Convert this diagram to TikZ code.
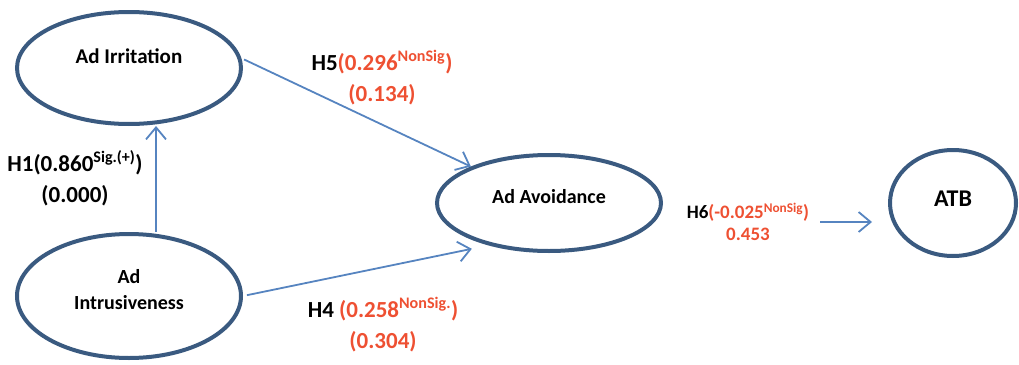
\documentclass[tikz,border=0pt]{standalone}
\usepackage{fontspec}
\setmainfont{Carlito}
\usepackage{tikz}
\usetikzlibrary{shapes.geometric}
\usetikzlibrary{arrows.meta}
\definecolor{ovalblue}{RGB}{58,90,128}
\definecolor{arrowblue}{RGB}{86,132,192}
\definecolor{valred}{RGB}{238,80,50}
\newcommand{\RED}[1]{\textcolor{valred}{#1}}
\newcommand{\SIG}[1]{\textsuperscript{#1}}

\begin{document}
\begin{tikzpicture}[x=1pt,y=-1pt,
    construct/.style={draw=ovalblue,line width=4pt,ellipse,inner sep=0pt},
    ctext/.style={font=\fontsize{20}{26}\selectfont\bfseries,align=center},
    plabel/.style={font=\fontsize{23}{31}\selectfont\bfseries,align=center},
    link/.style={draw=arrowblue,line width=1.8pt,-{Straight Barb[length=12pt,width=20pt,line width=1.8pt]}}]
    \useasboundingbox (0,0) rectangle (1019,364);

    % constructs
    \node[construct,minimum width=224pt,minimum height=112pt] (irr) at (129,68) {};
    \node[construct,minimum width=224pt,minimum height=124pt] (int) at (129,296) {};
    \node[construct,minimum width=224pt,minimum height=96pt] (avo) at (549,203) {};
    \node[construct,minimum width=126pt,minimum height=106pt] (atb) at (953,203) {};

    \node[ctext,font=\fontsize{21}{26}\selectfont\bfseries] (irrtxt) at (129,56) {Ad Irritation};
    \node[ctext] (inttxt) at (129,290) {Ad\\Intrusiveness};
    \node[ctext] (avotxt) at (549,197) {Ad Avoidance};
    \node[ctext,font=\fontsize{24}{28}\selectfont\bfseries] (atbtxt) at (953,199) {ATB};

    % paths
    \draw[link] ([xshift=27pt]int.north) -- ([xshift=27pt]irr.south);
    \draw[link,shorten <=3pt] (irr.5) -- (avo.155);
    \draw[link,shorten <=4pt,shorten >=17pt] (int.east) -- (avo.215);
    \coordinate (h6s) at (820,222);
    \draw[link,shorten >=16pt] (h6s) -- (h6s -| atb.west);

    % path coefficients
    \node[plabel] (h1) at (75,178) {H1(0.860\SIG{Sig.(+)})\\(0.000)};
    \node[plabel] (h5) at (382,78) {H5\RED{(0.296\SIG{NonSig})}\\\RED{(0.134)}};
    \node[plabel] (h4) at (383,325) {H4 \RED{(0.258\SIG{NonSig.})}\\\RED{(0.304)}};
    \node[plabel,font=\fontsize{19}{22}\selectfont\bfseries] (h6) at (748,222) {H6\RED{(-0.025\SIG{NonSig})}\\\RED{0.453}};
\end{tikzpicture}
\end{document}
